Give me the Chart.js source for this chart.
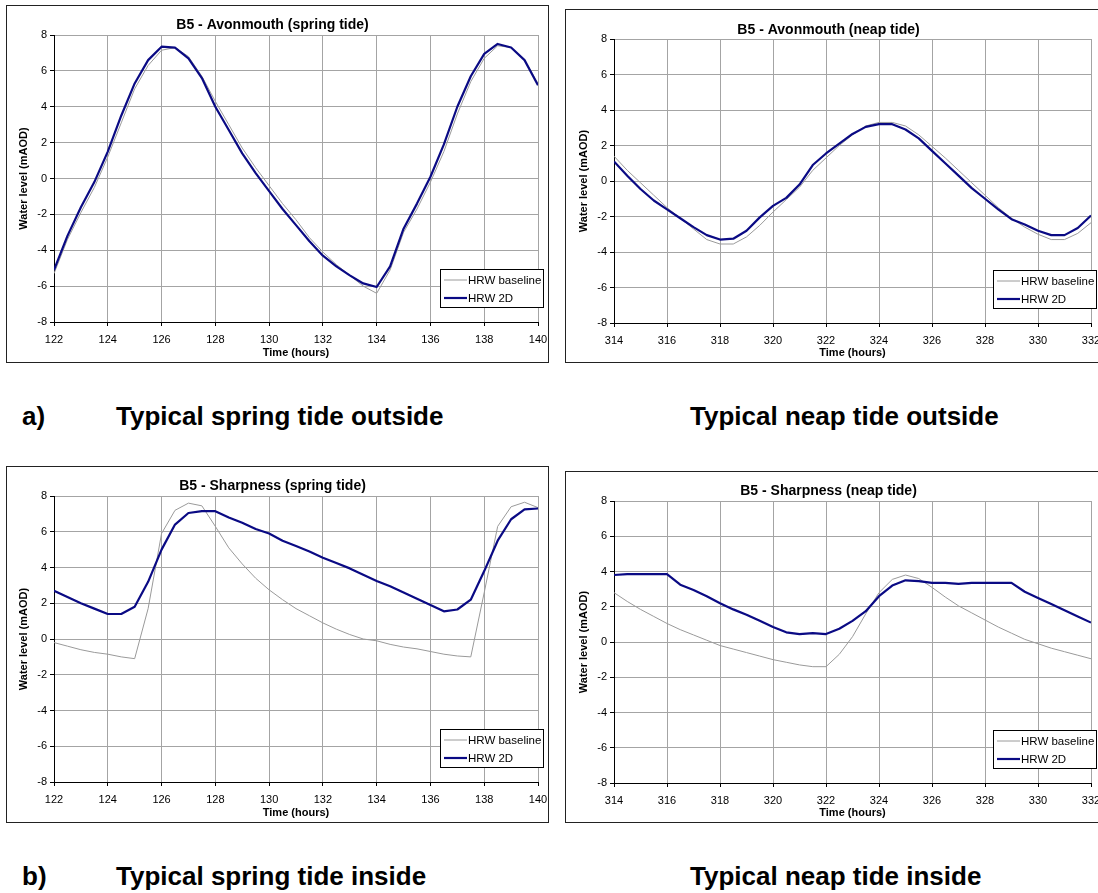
<!DOCTYPE html>
<html>
<head>
<meta charset="utf-8">
<script src="https://cdn.jsdelivr.net/npm/chart.js@4.4.1/dist/chart.umd.min.js"></script>
<style>
  html, body { margin: 0; padding: 0; background: #fff; }
  body { width: 1098px; height: 893px; position: relative; overflow: hidden; font-family: "Liberation Sans", Arial, sans-serif; }
  .frame { position: absolute; border: 1px solid #222; background: #fff; }
  .frame canvas { display: block; }
  .cap { position: absolute; font-weight: bold; font-size: 26px; line-height: 30px; color: #000; white-space: nowrap; }
</style>
</head>
<body>

<div class="frame" style="left:6px; top:5px;"><canvas id="c1" width="541" height="356"></canvas></div>
<div class="frame" style="left:565px; top:9px;"><canvas id="c2" width="540" height="352"></canvas></div>
<div class="frame" style="left:6px; top:466px;"><canvas id="c3" width="541" height="355"></canvas></div>
<div class="frame" style="left:565px; top:471px;"><canvas id="c4" width="540" height="350"></canvas></div>

<div class="cap" style="left:22px; top:401px;">a)</div>
<div class="cap" style="left:116px; top:401px;">Typical spring tide outside</div>
<div class="cap" style="left:690px; top:401px;">Typical neap tide outside</div>
<div class="cap" style="left:22px; top:861px;">b)</div>
<div class="cap" style="left:116px; top:861px;">Typical spring tide inside</div>
<div class="cap" style="left:690px; top:861px;">Typical neap tide inside</div>

<script>
// Time axis samples (hours)
const springHours = [122, 122.5, 123, 123.5, 124, 124.5, 125, 125.5, 126, 126.5, 127, 127.5, 128, 128.5, 129, 129.5, 130, 130.5, 131, 131.5, 132, 132.5, 133, 133.5, 134, 134.5, 135, 135.5, 136, 136.5, 137, 137.5, 138, 138.5, 139, 139.5, 140];
const neapHours = [314, 314.5, 315, 315.5, 316, 316.5, 317, 317.5, 318, 318.5, 319, 319.5, 320, 320.5, 321, 321.5, 322, 322.5, 323, 323.5, 324, 324.5, 325, 325.5, 326, 326.5, 327, 327.5, 328, 328.5, 329, 329.5, 330, 330.5, 331, 331.5, 332];

// Avonmouth, spring tide (mAOD)
const avonSpringBaseline = [-5.3, -3.4, -1.9, -0.5, 1.2, 3.1, 5.0, 6.3, 7.15, 7.3, 6.8, 5.7, 4.3, 3.0, 1.7, 0.6, -0.4, -1.4, -2.3, -3.3, -4.1, -4.8, -5.4, -6.0, -6.4, -5.1, -3.0, -1.7, -0.2, 1.5, 3.6, 5.4, 6.7, 7.4, 7.3, 6.6, 5.3];
const avonSpring2D = [-5.1, -3.2, -1.6, -0.2, 1.5, 3.5, 5.3, 6.6, 7.35, 7.3, 6.7, 5.6, 4.0, 2.7, 1.4, 0.3, -0.7, -1.7, -2.6, -3.5, -4.3, -4.9, -5.4, -5.85, -6.05, -4.9, -2.8, -1.4, 0.1, 1.9, 4.0, 5.7, 6.95, 7.5, 7.3, 6.6, 5.2];

// Avonmouth, neap tide (mAOD)
const avonNeapBaseline = [1.4, 0.6, -0.1, -0.8, -1.5, -2.1, -2.7, -3.3, -3.55, -3.55, -3.15, -2.5, -1.75, -1.05, -0.35, 0.6, 1.3, 2.0, 2.6, 3.1, 3.3, 3.3, 3.1, 2.6, 1.95, 1.3, 0.6, -0.1, -0.8, -1.5, -2.1, -2.6, -3.0, -3.3, -3.3, -2.95, -2.35];
const avonNeap2D = [1.1, 0.3, -0.45, -1.1, -1.6, -2.1, -2.6, -3.05, -3.3, -3.25, -2.8, -2.05, -1.4, -0.95, -0.2, 0.9, 1.55, 2.1, 2.65, 3.05, 3.2, 3.2, 2.9, 2.4, 1.7, 1.0, 0.3, -0.4, -1.0, -1.6, -2.15, -2.45, -2.8, -3.05, -3.05, -2.65, -1.95];

// Sharpness, spring tide (mAOD)
const sharpSpringBaseline = [-0.2, -0.4, -0.6, -0.75, -0.85, -1.0, -1.1, 1.7, 5.9, 7.2, 7.6, 7.45, 6.3, 5.1, 4.2, 3.4, 2.75, 2.2, 1.7, 1.3, 0.9, 0.55, 0.25, 0.0, -0.1, -0.3, -0.45, -0.55, -0.7, -0.85, -0.95, -1.0, 2.6, 6.3, 7.4, 7.65, 7.35];
const sharpSpring2D = [2.7, 2.35, 2.0, 1.7, 1.4, 1.4, 1.8, 3.2, 5.0, 6.4, 7.05, 7.15, 7.15, 6.8, 6.5, 6.15, 5.9, 5.5, 5.2, 4.9, 4.55, 4.25, 3.95, 3.6, 3.25, 2.95, 2.6, 2.25, 1.9, 1.55, 1.65, 2.2, 3.8, 5.5, 6.7, 7.25, 7.3];

// Sharpness, neap tide (mAOD)
const sharpNeapBaseline = [2.8, 2.3, 1.85, 1.45, 1.05, 0.7, 0.4, 0.1, -0.2, -0.4, -0.6, -0.8, -1.0, -1.15, -1.3, -1.4, -1.4, -0.7, 0.3, 1.6, 2.8, 3.55, 3.8, 3.6, 3.1, 2.55, 2.05, 1.65, 1.25, 0.85, 0.5, 0.15, -0.1, -0.35, -0.55, -0.75, -0.95];
const sharpNeap2D = [3.8, 3.85, 3.85, 3.85, 3.85, 3.25, 2.95, 2.6, 2.2, 1.85, 1.55, 1.2, 0.85, 0.55, 0.45, 0.5, 0.45, 0.75, 1.2, 1.75, 2.6, 3.2, 3.5, 3.45, 3.35, 3.35, 3.3, 3.35, 3.35, 3.35, 3.35, 2.85, 2.5, 2.15, 1.8, 1.45, 1.1];

const seriesNames = ['HRW baseline', 'HRW 2D'];
const yTicks = [-8, -6, -4, -2, 0, 2, 4, 6, 8];

const FONT = "'Liberation Sans', Arial, sans-serif";
const GRID = '#a4a4a4';
const BASE_COLOR = '#9a9a9a';
const MODEL_COLOR = '#0a0a84';

// Boxed legend sitting in the lower-right corner of the plot
const boxLegend = {
  id: 'boxLegend',
  afterDatasetsDraw(chart, args, o) {
    const { ctx, chartArea } = chart;
    const x = Math.round(chartArea.right + o.dx), y = Math.round(chartArea.bottom + o.dy);
    ctx.save();
    ctx.fillStyle = '#fff';
    ctx.fillRect(x, y, o.w, o.h);
    ctx.strokeStyle = '#000';
    ctx.lineWidth = 1;
    ctx.strokeRect(x + 0.5, y + 0.5, o.w, o.h);
    ctx.font = '11.5px ' + FONT;
    ctx.textBaseline = 'middle';
    chart.data.datasets.forEach((ds, i) => {
      const cy = y + o.rowTop + i * o.rowGap;
      ctx.strokeStyle = ds.borderColor;
      ctx.lineWidth = ds.borderWidth;
      ctx.beginPath();
      ctx.moveTo(x + 4, cy);
      ctx.lineTo(x + 27, cy);
      ctx.stroke();
      ctx.fillStyle = '#000';
      ctx.fillText(ds.label, x + 28, cy + 0.5);
    });
    ctx.restore();
  }
};

function toPoints(xs, ys) {
  return xs.map((x, i) => ({ x: x, y: ys[i] }));
}

function makeChart(id, p) {
  return new Chart(document.getElementById(id), {
    type: 'line',
    data: {
      datasets: [
        { label: seriesNames[0], data: toPoints(p.hours, p.baseline), borderColor: BASE_COLOR, borderWidth: 1, order: 2 },
        { label: seriesNames[1], data: toPoints(p.hours, p.model), borderColor: MODEL_COLOR, borderWidth: 2.2, order: 1 }
      ]
    },
    options: {
      responsive: false,
      animation: false,
      devicePixelRatio: 1,
      layout: { padding: { left: 0, right: p.padRight, top: 0, bottom: 0 } },
      elements: { point: { radius: 0 }, line: { tension: 0, borderJoinStyle: 'round' } },
      plugins: {
        legend: { display: false },
        tooltip: { enabled: false },
        title: {
          display: true,
          text: p.title,
          color: '#000',
          font: { family: FONT, size: 14, weight: 'bold', lineHeight: 1.2 },
          padding: { top: p.titleMid - 8.4, bottom: 29 - 16.8 - (p.titleMid - 8.4) }
        },
        boxLegend: { dx: -98, dy: -53, w: 103, h: 38, rowTop: 11, rowGap: 18 }
      },
      scales: {
        x: {
          type: 'linear',
          min: p.hours[0],
          max: p.hours[p.hours.length - 1],
          afterBuildTicks: (s) => { s.ticks = p.xTicks.map(v => ({ value: v })); },
          afterFit: (s) => { s.height = p.xH; s.paddingLeft = 0; s.paddingRight = 0; },
          grid: { color: GRID, lineWidth: 1, tickColor: '#000', tickLength: 4 },
          border: { color: '#000', width: 1 },
          ticks: { color: '#000', padding: 7, maxRotation: 0, font: { family: FONT, size: 11 } },
          title: { display: true, text: 'Time (hours)', color: '#000', font: { family: FONT, size: 11, weight: 'bold', lineHeight: 1.2 }, padding: { top: 0, bottom: 2.5 } }
        },
        y: {
          min: -8,
          max: 8,
          afterBuildTicks: (s) => { s.ticks = yTicks.map(v => ({ value: v })); },
          afterFit: (s) => { s.width = p.yW; s.paddingTop = 0; s.paddingBottom = 0; },
          grid: { color: GRID, lineWidth: 1, tickColor: '#000', tickLength: 4 },
          border: { color: '#000', width: 1 },
          ticks: { color: '#000', padding: 3, font: { family: FONT, size: 11 } },
          title: { display: true, text: 'Water level (mAOD)', color: '#000', font: { family: FONT, size: 11, weight: 'bold', lineHeight: 1.2 }, padding: { top: p.yTitlePad, bottom: 0 } }
        }
      }
    },
    plugins: [boxLegend]
  });
}

const springTicks = [122, 124, 126, 128, 130, 132, 134, 136, 138, 140];
const neapTicks = [314, 316, 318, 320, 322, 324, 326, 328, 330, 332];

makeChart('c1', { title: 'B5 - Avonmouth (spring tide)', hours: springHours, xTicks: springTicks, baseline: avonSpringBaseline, model: avonSpring2D, yW: 47, padRight: 10, xH: 40, titleMid: 19, yTitlePad: 10.4 });
makeChart('c2', { title: 'B5 - Avonmouth (neap tide)', hours: neapHours, xTicks: neapTicks, baseline: avonNeapBaseline, model: avonNeap2D, yW: 48, padRight: 15, xH: 39, titleMid: 20, yTitlePad: 11.4 });
makeChart('c3', { title: 'B5 - Sharpness (spring tide)', hours: springHours, xTicks: springTicks, baseline: sharpSpringBaseline, model: sharpSpring2D, yW: 47, padRight: 10, xH: 40, titleMid: 19, yTitlePad: 10.4 });
makeChart('c4', { title: 'B5 - Sharpness (neap tide)', hours: neapHours, xTicks: neapTicks, baseline: sharpNeapBaseline, model: sharpNeap2D, yW: 48, padRight: 15, xH: 39, titleMid: 19, yTitlePad: 11.4 });
</script>
</body>
</html>
